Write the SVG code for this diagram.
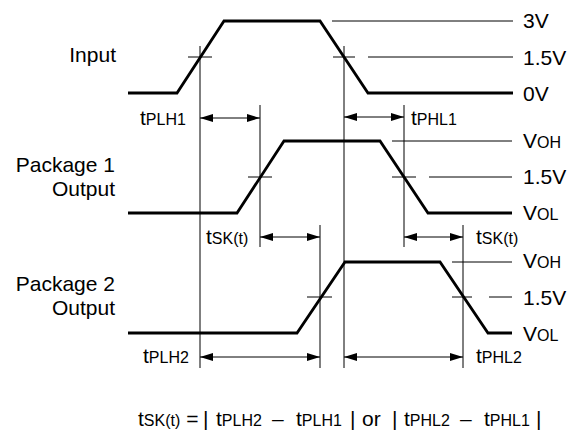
<svg xmlns="http://www.w3.org/2000/svg" width="578" height="435" viewBox="0 0 578 435">
<style>
text{font-family:"Liberation Sans",Arial,sans-serif;fill:#000;font-size:21px}
.s{font-size:16px}
.w{fill:none;stroke:#000;stroke-width:2.8;stroke-linejoin:miter}
.t{fill:none;stroke:#000;stroke-width:1}
.a{fill:none;stroke:#000;stroke-width:1;marker-start:url(#ah);marker-end:url(#ah)}
</style>
<defs>
<marker id="ah" viewBox="0 0 13 8" refX="13" refY="4" markerWidth="13" markerHeight="8" markerUnits="userSpaceOnUse" orient="auto-start-reverse">
<path d="M0,0 L13,4 L0,8 Z" fill="#000"/>
</marker>
</defs>
<g id="labels">
<text x="116" y="62" text-anchor="end">Input</text>
<text x="115" y="172" text-anchor="end">Package 1</text>
<text x="115" y="196" text-anchor="end">Output</text>
<text x="115" y="291" text-anchor="end">Package 2</text>
<text x="115" y="315" text-anchor="end">Output</text>
</g>
<g id="input">
<polyline class="w" points="128,93 177,93 224,21 320,21 368,93 513,93"/>
<line class="t" x1="332" y1="21" x2="513" y2="21"/>
<line class="t" x1="188" y1="57" x2="212" y2="57"/>
<line class="t" x1="333" y1="57" x2="355" y2="57"/>
<line class="t" x1="368" y1="57" x2="513" y2="57"/>
<text x="523" y="28">3V</text>
<text x="523" y="65">1.5V</text>
<text x="523" y="101">0V</text>
</g>
<g id="package1">
<polyline class="w" points="128,213 237,213 284,141 380,141 428,213 512,213"/>
<line class="t" x1="392" y1="141" x2="512" y2="141"/>
<line class="t" x1="248" y1="177" x2="272" y2="177"/>
<line class="t" x1="392" y1="177" x2="416" y2="177"/>
<line class="t" x1="429" y1="177" x2="512" y2="177"/>
<text x="523" y="148">V<tspan class="s">OH</tspan></text>
<text x="523" y="184">1.5V</text>
<text x="523" y="220">V<tspan class="s">OL</tspan></text>
</g>
<g id="package2">
<polyline class="w" points="128,333 297,333 345,262 440,262 488,333 512,333"/>
<line class="t" x1="452" y1="262" x2="512" y2="262"/>
<line class="t" x1="307" y1="297" x2="332" y2="297"/>
<line class="t" x1="452" y1="297" x2="472" y2="297"/>
<line class="t" x1="489" y1="297" x2="512" y2="297"/>
<text x="523" y="268">V<tspan class="s">OH</tspan></text>
<text x="523" y="305">1.5V</text>
<text x="523" y="341">V<tspan class="s">OL</tspan></text>
</g>
<g id="connectors">
<line class="t" x1="200" y1="46" x2="200" y2="368"/>
<line class="t" x1="344" y1="46" x2="344" y2="368"/>
<line class="t" x1="260" y1="105" x2="260" y2="247"/>
<line class="t" x1="404" y1="105" x2="404" y2="247"/>
<line class="t" x1="320" y1="225" x2="320" y2="368"/>
<line class="t" x1="463" y1="225" x2="463" y2="368"/>
<line class="a" x1="200" y1="118" x2="260" y2="118"/>
<line class="a" x1="344" y1="117" x2="404" y2="117"/>
<line class="a" x1="260" y1="237" x2="320" y2="237"/>
<line class="a" x1="404" y1="237" x2="463" y2="237"/>
<line class="a" x1="200" y1="357" x2="320" y2="357"/>
<line class="a" x1="344" y1="357" x2="463" y2="357"/>
</g>
<g id="timing-labels">
<text x="140" y="125">t<tspan class="s">PLH1</tspan></text>
<text x="411" y="125">t<tspan class="s">PHL1</tspan></text>
<text x="206" y="244">t<tspan class="s">SK(t)</tspan></text>
<text x="476" y="244">t<tspan class="s">SK(t)</tspan></text>
<text x="143" y="363">t<tspan class="s">PLH2</tspan></text>
<text x="476" y="363">t<tspan class="s">PHL2</tspan></text>
</g>
<g id="formula">
<text y="426"><tspan x="138">t</tspan><tspan class="s">SK(t)</tspan><tspan> =</tspan><tspan x="203">|</tspan><tspan x="216">t</tspan><tspan class="s">PLH2</tspan><tspan x="272">–</tspan><tspan x="296">t</tspan><tspan class="s">PLH1</tspan><tspan x="350">|</tspan><tspan x="362">or</tspan><tspan x="392">|</tspan><tspan x="404">t</tspan><tspan class="s">PHL2</tspan><tspan x="460">–</tspan><tspan x="484">t</tspan><tspan class="s">PHL1</tspan><tspan x="536">|</tspan></text>
</g>
</svg>
